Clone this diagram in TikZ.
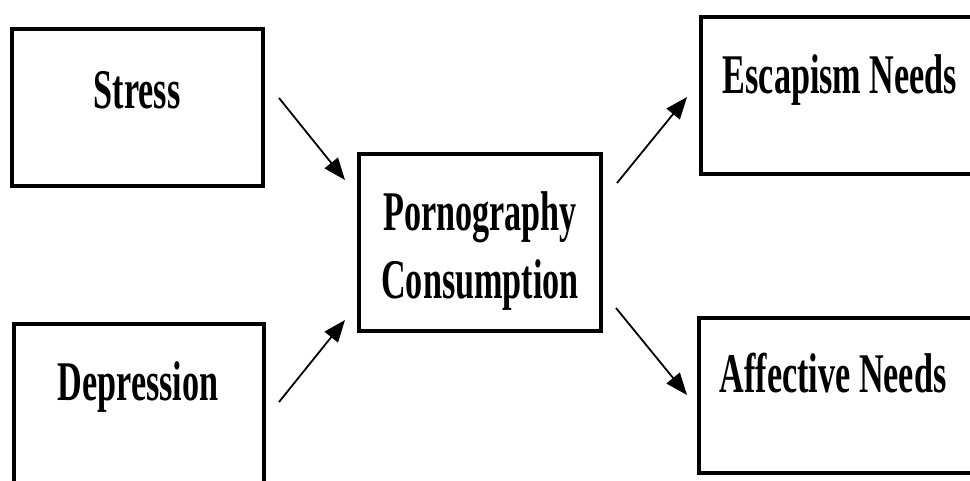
\documentclass[tikz,border=0pt]{standalone}
\usepackage{fontspec}
\setmainfont{Liberation Serif}
\newfontfamily\condfont[FakeStretch=0.61]{Liberation Serif}
\usetikzlibrary{arrows.meta}
\tikzset{
  box/.style={draw=black, line width=3.5pt, inner sep=0pt, fill=white},
  lbl/.style={font=\condfont\bfseries\fontsize{56}{68}\selectfont, inner sep=0pt, anchor=base, align=center},
  arr/.style={line width=1.8pt, -{Triangle[length=22pt, width=17pt]}}
}
\begin{document}
\begin{tikzpicture}[x=1pt, y=-1pt]
\useasboundingbox (0,0) rectangle (970,480);
\clip (0,0) rectangle (970,480);
% boxes
\node[box, minimum width=251pt, minimum height=157pt] (stress) at (137.5,107.5) {};
\node[box, minimum width=250pt, minimum height=176pt] (depr) at (139,412) {};
\node[box, minimum width=242pt, minimum height=177pt] (porn) at (480,242.5) {};
\node[box, minimum width=289pt, minimum height=157pt] (esc) at (845.5,95.5) {};
\node[box, minimum width=291pt, minimum height=155pt] (aff) at (844.5,395.5) {};
% labels
\node[lbl] (tstress) at (137,108) {Stress};
\node[lbl] (tdepr) at (138,400) {Depression};
\node[lbl] (tporn1) at (480,230) {Pornography};
\node[lbl] (tporn2) at (480,298) {Consumption};
\node[lbl] (tesc) at (840,93) {Escapism Needs};
\node[lbl] (taff) at (833,392) {Affective Needs};
% arrow ends
\coordinate (s1) at (279,98);
\coordinate (s2) at (345,180);
\coordinate (d1) at (279,402);
\coordinate (d2) at (345,320);
\coordinate (e1) at (617,183);
\coordinate (e2) at (687,97);
\coordinate (a1) at (616,308);
\coordinate (a2) at (687,395);
\draw[arr] (s1) -- (s2);
\draw[arr] (d1) -- (d2);
\draw[arr] (e1) -- (e2);
\draw[arr] (a1) -- (a2);
\end{tikzpicture}
\end{document}
